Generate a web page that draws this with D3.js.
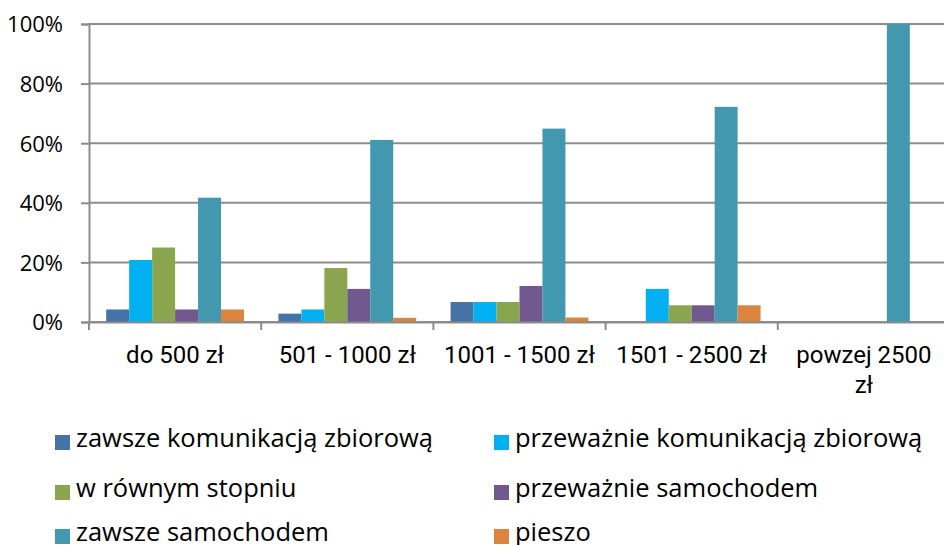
<!DOCTYPE html>
<html>
<head>
<meta charset="utf-8">
<script src="https://cdn.jsdelivr.net/npm/d3@7/dist/d3.min.js"></script>
<style>
  html, body { margin: 0; padding: 0; background: #fff; }
  svg { display: block; }
</style>
</head>
<body>
<svg id="chart" width="944" height="545"></svg>
<script>
const categories = ["do 500 zł", "501 - 1000 zł", "1001 - 1500 zł", "1501 - 2500 zł", "powzej 2500 zł"];
const seriesNames = ["zawsze komunikacją zbiorową", "przeważnie komunikacją zbiorową", "w równym stopniu", "przeważnie samochodem", "zawsze samochodem", "pieszo"];
const seriesColors = ["#4572A7", "#00B0F0", "#89A54E", "#71588F", "#4198AF", "#DB843D"];
// values in %, per series, per category
const zawszeKom   = [4.2, 2.8, 6.7, 0, 0];
const przewKom    = [20.8, 4.2, 6.7, 11.1, 0];
const rownym      = [25.0, 18.1, 6.7, 5.6, 0];
const przewSam    = [4.2, 11.1, 12.1, 5.6, 0];
const zawszeSam   = [41.7, 61.1, 64.9, 72.2, 100];
const pieszo      = [4.2, 1.4, 1.5, 5.6, 0];
const yTicks = [0, 20, 40, 60, 80, 100];

const seriesValues = [zawszeKom, przewKom, rownym, przewSam, zawszeSam, pieszo];

const svg = d3.select("#chart");
const plot = { left: 89, right: 950, top: 24, bottom: 322 };
const gridColor = "#8c8c8c";

const x0 = d3.scaleBand().domain(categories).range([plot.left, plot.right]).paddingInner(0).paddingOuter(0);
const x1 = d3.scaleBand().domain(seriesNames).range([0, x0.bandwidth()]).paddingInner(0).paddingOuter(0.75);
const y = d3.scaleLinear().domain([0, 100]).range([plot.bottom, plot.top]);

// gridlines
svg.append("g").selectAll("line").data(yTicks).join("line")
  .attr("x1", plot.left).attr("x2", plot.right)
  .attr("y1", d => y(d)).attr("y2", d => y(d))
  .attr("stroke", gridColor).attr("stroke-width", 2);

// y axis
const yAxis = d3.axisLeft(y).tickValues(yTicks).tickFormat(d => d + "%").tickSize(8).tickPadding(18);
const gy = svg.append("g").attr("transform", `translate(${plot.left},0)`).call(yAxis);
gy.select(".domain").attr("stroke", gridColor).attr("stroke-width", 2);
gy.selectAll(".tick line").attr("stroke", gridColor).attr("stroke-width", 2);
gy.selectAll(".tick text").attr("font-family", "'Open Sans', sans-serif").attr("font-size", 22).attr("fill", "#000").attr("dy", "0.36em");

// bars
const groups = svg.append("g").selectAll("g").data(categories).join("g")
  .attr("transform", d => `translate(${x0(d)},0)`);
groups.selectAll("rect")
  .data((c, ci) => seriesNames.map((s, si) => ({ s, si, v: seriesValues[si][ci] })))
  .join("rect")
  .attr("x", d => x1(d.s))
  .attr("width", x1.bandwidth())
  .attr("y", d => y(d.v))
  .attr("height", d => y(0) - y(d.v))
  .attr("fill", d => seriesColors[d.si]);

// x axis
const xAxis = d3.axisBottom(x0).tickSize(0).tickFormat("");
const gx = svg.append("g").attr("transform", `translate(0,${plot.bottom})`).call(xAxis);
gx.select(".domain").attr("stroke", gridColor).attr("stroke-width", 2);
gx.selectAll(".tick").remove();
// boundary ticks
const bounds = categories.map(c => x0(c)).concat([plot.right]);
gx.selectAll("line.b").data(bounds).join("line").attr("class", "b")
  .attr("x1", d => d).attr("x2", d => d).attr("y1", 0).attr("y2", 8)
  .attr("stroke", gridColor).attr("stroke-width", 2);

// category labels with wrapping
const labelG = svg.append("g");
const maxLabelW = x0.bandwidth() - 14;
categories.forEach(c => {
  const cx = x0(c) + x0.bandwidth() / 2;
  const t = labelG.append("text").attr("x", cx).attr("y", 363)
    .attr("text-anchor", "middle").attr("font-family", "Roboto, sans-serif")
    .attr("font-size", 24).attr("fill", "#000");
  const words = c.split(" ");
  let line = [];
  let tspan = t.append("tspan").attr("x", cx).attr("dy", 0);
  words.forEach(w => {
    line.push(w);
    tspan.text(line.join(" "));
    if (tspan.node().getComputedTextLength() > maxLabelW && line.length > 1) {
      line.pop();
      tspan.text(line.join(" "));
      line = [w];
      tspan = t.append("tspan").attr("x", cx).attr("dy", 30).text(w);
    }
  });
});

// legend
const legendCols = [55, 494];
const legendRows = [447, 497, 541];
const lg = svg.append("g").selectAll("g").data(seriesNames).join("g")
  .attr("transform", (d, i) => `translate(${legendCols[i % 2]},${legendRows[Math.floor(i / 2)]})`);
lg.append("rect").attr("x", 0).attr("y", -12).attr("width", 15).attr("height", 15)
  .attr("fill", (d, i) => seriesColors[i]);
lg.append("text").attr("x", 21).attr("y", 0)
  .attr("font-family", "'Open Sans', sans-serif").attr("font-size", 25.5).attr("fill", "#000")
  .text(d => d);
</script>
</body>
</html>
